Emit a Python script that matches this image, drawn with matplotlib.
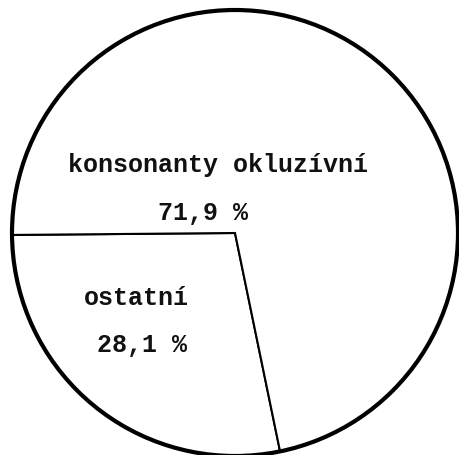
import matplotlib
matplotlib.use("Agg")
import matplotlib.pyplot as plt
from matplotlib.patches import Circle

# share of each group, in percent
labels = ["ostatní", "konsonanty okluzívní"]
values = [28.1, 71.9]

# where the typed labels sit (pixel coords, y up)
name_pos = [(136, 157), (218, 290)]
pct_pos = [(142, 110), (203, 242)]

cx, cy, r = 235, 222, 223

fig = plt.figure(figsize=(4.6, 4.55), dpi=100)
ax = fig.add_axes([0, 0, 1, 1])
ax.set_xlim(0, 460)
ax.set_ylim(0, 455)
ax.set_aspect("equal")
ax.axis("off")

ax.pie(values, center=(cx, cy), radius=r, startangle=180.5, counterclock=True,
       colors=["white", "white"],
       wedgeprops=dict(edgecolor="black", linewidth=1.5))
ax.add_patch(Circle((cx, cy), r, fill=False, edgecolor="black", linewidth=3))
ax.set_xlim(0, 460)
ax.set_ylim(0, 455)

font = dict(family=["Liberation Mono", "DejaVu Sans Mono"], fontsize=18,
            fontweight="bold", ha="center", va="center", color="#111111")
for lab, v, p1, p2 in zip(labels, values, name_pos, pct_pos):
    ax.text(p1[0], p1[1], lab, **font)
    ax.text(p2[0], p2[1], ("%.1f %%" % v).replace(".", ","), **font)

fig.savefig("out.png", dpi=100, facecolor="white")
